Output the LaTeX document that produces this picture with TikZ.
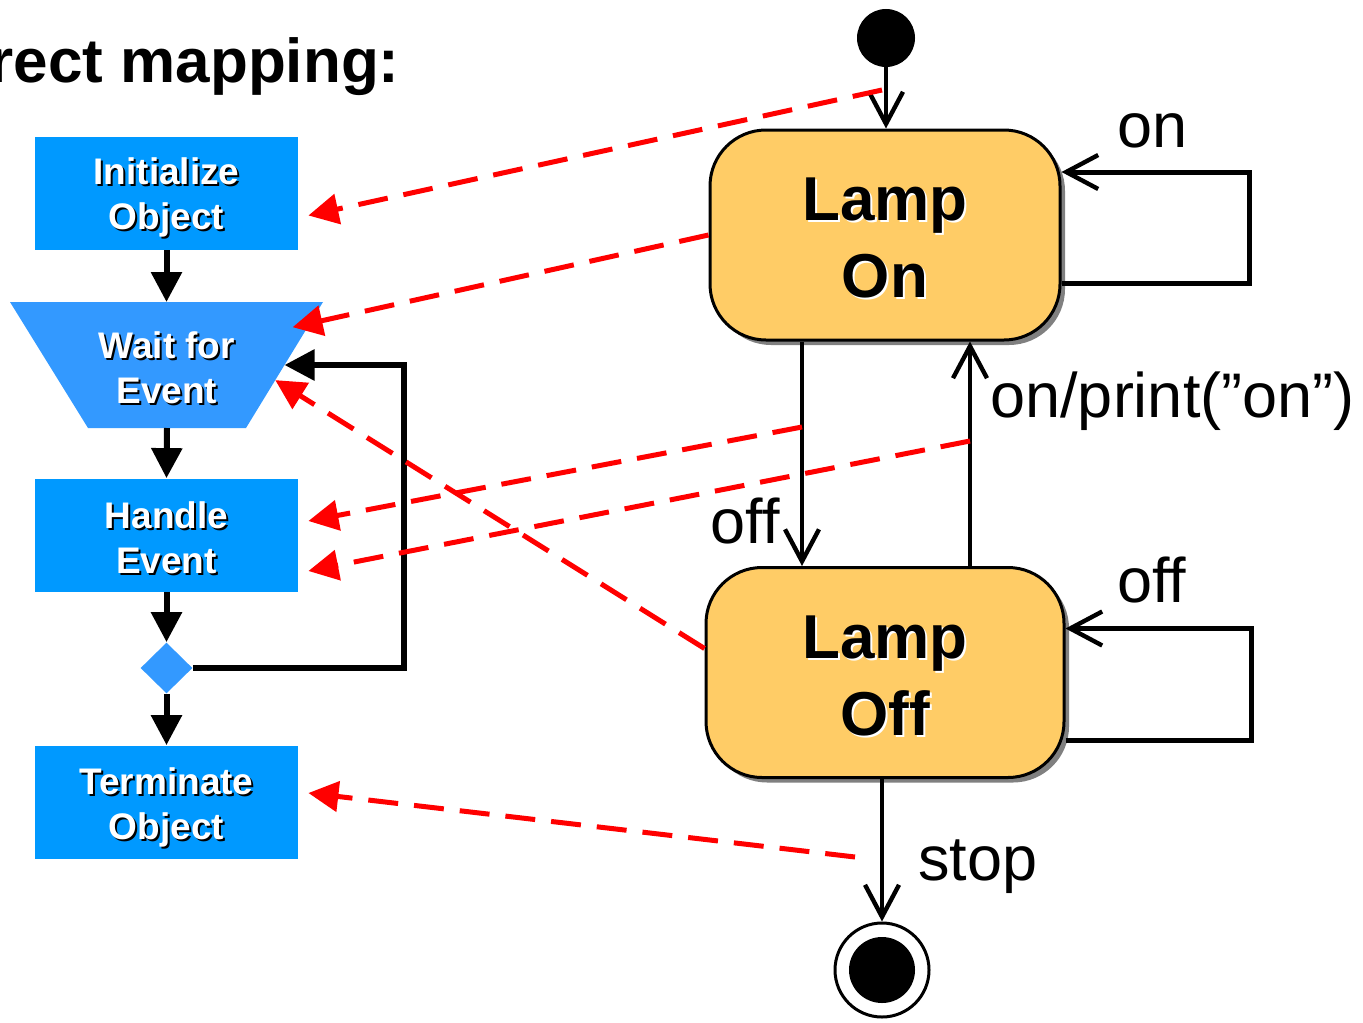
\documentclass[tikz,border=0pt]{standalone}
\usepackage{fontspec}
\setmainfont{Liberation Sans}
\usetikzlibrary{arrows.meta,shapes.geometric,shadows,calc}

\definecolor{procblue}{RGB}{0,153,255}
\definecolor{waitblue}{RGB}{51,153,255}
\definecolor{stateyellow}{RGB}{255,204,102}
\definecolor{mapred}{RGB}{255,0,0}

% text with a small offset shadow: #1 text colour, #2 shadow colour
\newcommand\embossed[3]{\rlap{\hspace{1pt}\raisebox{-1pt}{\textcolor{#2}{#3}}}\textcolor{#1}{#3}}

\tikzset{
  process/.style={rectangle, fill=procblue, minimum width=131.5pt, minimum height=56.5pt,
    inner sep=0pt},
  boxtext/.style={inner sep=0pt, align=center, font=\bfseries\fontsize{18.5}{22.5}\selectfont},
  decision/.style={diamond, fill=waitblue, minimum width=26pt, minimum height=25.5pt, inner sep=0pt},
  flow/.style={line width=3pt, -{Triangle[length=15pt,width=15pt]}},
  lampstate/.style={rectangle, rounded corners=28pt, draw=black, line width=1.5pt,
    fill=stateyellow, minimum height=105pt, inner sep=0pt,
    drop shadow={shadow xshift=2.5pt, shadow yshift=-2.5pt, fill=gray, opacity=1}},
  lamptext/.style={inner sep=0pt, align=center, font=\bfseries\fontsize{31}{38.5}\selectfont},
  trans/.style={line width=2.2pt, -{Straight Barb[length=16pt,width=17pt,line width=2.2pt]}},
  loopline/.style={line width=2.5pt, line join=miter},
  lbl/.style={font=\fontsize{31.5}{36}\selectfont, inner sep=0pt},
  mapping/.style={mapred, line width=2.5pt, dash pattern=on 15pt off 8pt,
    -{Triangle[length=15pt,width=15pt]}},
}

\begin{document}
\begin{tikzpicture}[x=0.5pt,y=-0.5pt]
\useasboundingbox (0,0) rectangle (1363,1022);
\clip (0,0) rectangle (1363,1022);

% heading
\node[anchor=base east, inner sep=0pt, font=\bfseries\fontsize{31}{36}\selectfont]
  (heading) at (400,83) {Direct mapping:};

% ---------------- flowchart ----------------
\node[process] (initbox) at (166.5,193.5) {};
\node[boxtext] (inittext) at ([yshift=-2.5pt]initbox.center)
  {\embossed{white}{black}{Initialize}\\\embossed{white}{black}{Object}};

% "wait" step: inverted trapezoid
\coordinate (wtl) at (10,302);
\coordinate (wtr) at (323,302);
\coordinate (wbr) at (246,428);
\coordinate (wbl) at (88,428);
\coordinate (wtop) at ($(wtl)!0.5!(wtr)$);
\coordinate (wbot) at ($(wbl)!0.5!(wbr)$);
\coordinate (wright) at ($(wtr)!0.5!(wbr)$);
\fill[waitblue] (wtl) -- (wtr) -- (wbr) -- (wbl) -- cycle;
\node[boxtext] (wait) at ([yshift=-2pt]$(wtop)!0.5!(wbot)$)
  {\embossed{white}{black}{Wait for}\\\embossed{white}{black}{Event}};

\node[process] (handle) at (166.5,535) {};
\node[boxtext] (handletext) at ([yshift=-2pt]handle.center)
  {\embossed{white}{black}{Handle}\\\embossed{white}{black}{Event}};
\node[decision] (dec) at (166.5,668) {};
\node[process] (term) at (166.5,802) {};
\node[boxtext] (termtext) at ([yshift=-3pt]term.center)
  {\embossed{white}{black}{Terminate}\\\embossed{white}{black}{Object}};

\draw[flow] (initbox.south) -- (wtop);
\draw[flow] (wbot) -- (handle.north);
\draw[flow] (handle.south) -- (dec.north);
\draw[flow] (dec.south) -- (term.north);
\draw[flow, line join=miter] (dec.east) -- ++(211,0) |- (wright);

% ---------------- state machine ----------------
\node[circle, fill=black, minimum size=29pt, inner sep=0pt] (init) at (886,38) {};
\node[lampstate, minimum width=175pt] (on) at (885,235) {};
\node[lamptext] (ontext) at ([yshift=-2pt]on.center)
  {\embossed{black}{white}{Lamp}\\\embossed{black}{white}{On}};
\node[lampstate, minimum width=179pt] (off) at (885,672.5) {};
\node[lamptext] (offtext) at ([yshift=-2pt]off.center)
  {\embossed{black}{white}{Lamp}\\\embossed{black}{white}{Off}};
\node[circle, draw=black, line width=1.5pt, fill=white, minimum size=47pt, inner sep=0pt]
  (final) at (882,970) {};
\node[circle, fill=black, minimum size=33pt, inner sep=0pt] (finaldot) at (final) {};

\draw[trans] (init) -- (init |- on.north);
\draw[trans] ([xshift=-41.5pt]on.south) -- ([xshift=-41.5pt]on.south |- off.north);
\draw[trans] ([xshift=42.5pt]off.north) -- ([xshift=42.5pt]off.north |- on.south);
\draw[trans, loopline] ([yshift=-24pt]on.east) -- ++(188,0) |- ([yshift=31.5pt]on.east);
\draw[trans, loopline] ([yshift=-34pt]off.east) -- ++(186,0) |- ([yshift=22pt]off.east);
\draw[trans] (off.south -| final) -- (final);

\node[lbl, anchor=base west] (lblon) at (1117,147) {on};
\node[lbl, anchor=base west] (lbloff) at (1117,602) {off};
\node[lbl, anchor=base east] (lbloffdown) at (780,543) {off};
\node[lbl, anchor=base west] (lblprint) at (990,417) {on/print(”on”)};
\node[lbl, anchor=base west] (lblstop) at (918,880) {stop};

% ---------------- correspondence arrows ----------------
\coordinate (mInit) at (882,90);
\coordinate (mOffOn) at (802,427);
\coordinate (mOnOff) at (970,441);
\coordinate (mStop) at (855,857);

\draw[mapping] (mInit) -- ([xshift=5pt,yshift=-11pt]initbox.east);
\draw[mapping] (on.west) -- ([xshift=-7.5pt]$(wtr)!0.2!(wbr)$);
\draw[mapping] ([yshift=12pt]off.west) -- ($(wtr)!0.62!(wbr)$);
\draw[mapping] (mOffOn) -- ([xshift=5pt,yshift=7pt]handle.east);
\draw[mapping] (mOnOff) -- ([xshift=5pt,yshift=-18pt]handle.east);
\draw[mapping] (mStop) -- ([xshift=5pt,yshift=4.5pt]term.east);
\end{tikzpicture}
\end{document}
